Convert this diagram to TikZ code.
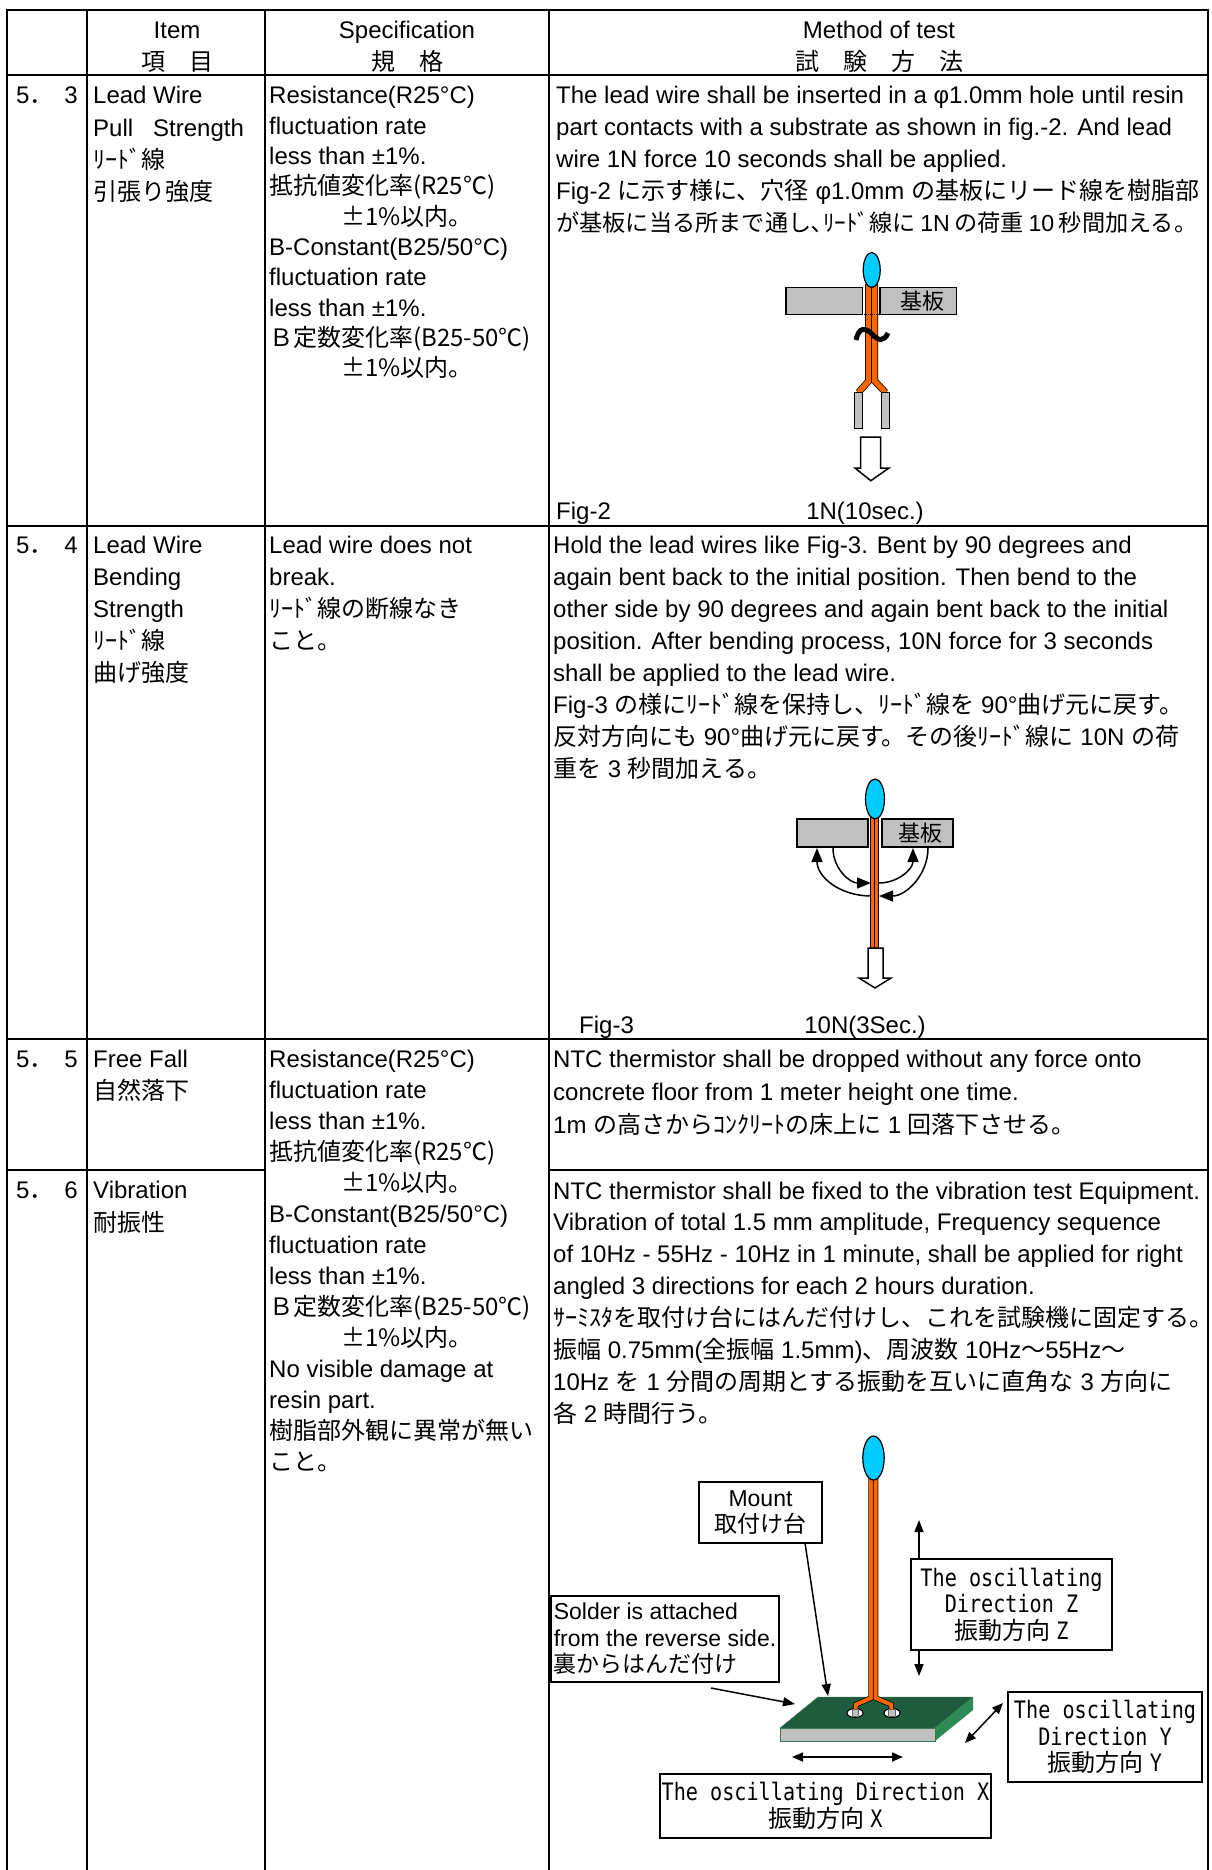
\documentclass[tikz,border=0pt]{standalone}
\usepackage{fontspec}
\setmainfont{Liberation Sans}
\newfontfamily\jpfont{Noto Sans CJK JP}
\newfontfamily\boxmono[FakeStretch=0.84]{DejaVu Sans Mono}
\newcommand{\jp}[1]{{\jpfont #1}}
\usetikzlibrary{arrows.meta}
\definecolor{thermblue}{HTML}{00CCFF}
\definecolor{wireorange}{HTML}{FF6600}
\definecolor{platgrey}{HTML}{C0C0C0}
\definecolor{boardtop}{HTML}{1F5C3D}
\definecolor{boardside}{HTML}{2E8B57}
\definecolor{boardedge}{HTML}{3C7A55}

\begin{document}
\begin{tikzpicture}[x=1pt,y=-1pt,
    grid/.style={line width=2pt,line cap=rect},
    txt/.style={anchor=base west,inner sep=0pt,font=\fontsize{24}{29}\selectfont},
    num/.style={anchor=base east,inner sep=0pt,font=\fontsize{24}{29}\selectfont},
    mid/.style={anchor=base,inner sep=0pt,font=\fontsize{24}{29}\selectfont},
    plate/.style={draw=black,fill=platgrey,line width=1.5pt},
    bead/.style={draw=black,fill=thermblue,line width=1.2pt},
    wire/.style={draw=black,line width=0.75pt,double=wireorange,double distance=#1},
    hollow/.style={draw=black,fill=white,line width=1.5pt,line join=miter},
    swing/.style={line width=1.5pt},
    tag/.style={draw,line width=1.5pt,inner sep=0pt,align=center,font=\fontsize{23}{26.5}\selectfont},
    montag/.style={draw,line width=1.5pt,inner sep=0pt,align=center,font=\boxmono\fontsize{24}{26.5}\selectfont},
    ptr/.style={line width=1.5pt,-{Triangle[length=12pt,width=9pt]}},
    dblptr/.style={line width=1.5pt,{Triangle[length=11pt,width=9pt]}-{Triangle[length=11pt,width=9pt]}},
    tip/.style={-{Triangle[length=14pt,width=11pt]}}]
  \useasboundingbox (0,0) rectangle (1211,1870);

  % table grid
  \foreach \x in {7,87,265,549,1208}
    \draw[grid] (\x,10) -- (\x,1870);
  \foreach \y in {10,75,526,1039}
    \draw[grid] (7,\y) -- (1208,\y);
  \draw[grid] (7,1170) -- (265,1170) (549,1170) -- (1208,1170);

  % header
  \node[mid] (item) at (177,39) {Item};
  \node[mid] (itemjp) at (177,71) {\jp{項　目}};
  \node[mid] (spec) at (407,39) {Specification};
  \node[mid] (specjp) at (407,71) {\jp{規　格}};
  \node[mid] (method) at (879,39) {Method of test};
  \node[mid] (methodjp) at (879,71) {\jp{試　験　方　法}};

  % 5.3
  \node[txt] (no53) at (16,104) {5\jp{．}};
  \node[num] (no53b) at (78,104) {3};
  \foreach \t [count=\i] in {{Lead Wire},{Pull\hspace{20pt}Strength},{\jp{ﾘｰﾄﾞ線}},{\jp{引張り強度}}}
    \node[txt] (item53-\i) at (93,{104+32.3*(\i-1)}) {\t};
  \foreach \t [count=\i] in {{Resistance(R25°C)},{fluctuation rate},{less than ±1\%.},
      {\jp{抵抗値変化率(R25℃)}},{\jp{　　　±1\%以内。}},{B-Constant(B25/50°C)},
      {fluctuation rate},{less than ±1\%.},{\jp{Ｂ定数変化率(B25-50℃)}},{\jp{　　　±1\%以内。}}}
    \node[txt] (spec53-\i) at (269,{104+30.3*(\i-1)}) {\t};
  \foreach \t [count=\i] in {{The lead wire shall be inserted in a φ1.0mm hole until resin},
      {part contacts with a substrate as shown in fig.-2. And lead},
      {wire 1N force 10 seconds shall be applied.},
      {Fig-2 \jp{に示す様に、穴径} φ1.0mm \jp{の基板にリード線を樹脂部}},
      {\fontsize{23.2}{29}\selectfont\jp{が基板に当る所まで通し､ﾘｰﾄﾞ線に}\hspace{4.5pt}1N\hspace{4.5pt}\jp{の荷重}\hspace{4.5pt}10\hspace{4.5pt}\jp{秒間加える}\makebox[9pt][l]{\jp{。}}}}
    \node[txt] (meth53-\i) at (556,{103.5+32.1*(\i-1)}) {\t};

  % Fig-2
  \draw[plate] (786,287.3) rectangle (862.3,314.3);
  \draw[plate] (880,287.3) rectangle (956.7,314.3);
  \node[inner sep=0pt,font=\jpfont\fontsize{22}{22}\selectfont] (kiban2) at (922,301) {基板};
  \draw[wire=5.4pt] (868.64,284) -- (868.64,381) -- (858.5,392.5);
  \draw[wire=5.4pt] (874.76,284) -- (874.76,381) -- (885.5,392.5);
  \draw[densely dotted,line width=1pt] (862.3,314.3) -- (880,314.3);
  \draw[line width=5pt] (856,340) .. controls (859,326) and (866,328) .. (872,334)
    .. controls (878,341) and (884,342) .. (888,333);
  \draw[plate,line width=1pt] (854.7,392.3) rectangle (862.3,428.3);
  \draw[plate,line width=1pt] (881.7,392.3) rectangle (889.3,428.3);
  \draw[bead] (871.7,270) ellipse [x radius=8.5,y radius=17.5];
  \draw[hollow] (860.7,437) -- (880.7,437) -- (880.7,468) -- (889,468) -- (870.8,480.7)
    -- (855,468) -- (860.7,468) -- cycle;
  \node[txt] (fig2) at (556,519) {Fig-2};
  \node[mid] (load2) at (865,519) {1N(10sec.)};

  % 5.4
  \node[txt] (no54) at (16,553) {5\jp{．}};
  \node[num] (no54b) at (78,553) {4};
  \foreach \t [count=\i] in {{Lead Wire},{Bending},{Strength},{\jp{ﾘｰﾄﾞ線}},{\jp{曲げ強度}}}
    \node[txt] (item54-\i) at (93,{553+32*(\i-1)}) {\t};
  \foreach \t [count=\i] in {{Lead wire does not},{break.},{\jp{ﾘｰﾄﾞ線の断線なき}},{\jp{こと。}}}
    \node[txt] (spec54-\i) at (269,{553+32*(\i-1)}) {\t};
  \foreach \t [count=\i] in {{Hold the lead wires like Fig-3. Bent by 90 degrees and},
      {again bent back to the initial position. Then bend to the},
      {other side by 90 degrees and again bent back to the initial},
      {position. After bending process, 10N force for 3 seconds},
      {shall be applied to the lead wire.},
      {Fig-3 \jp{の様にﾘｰﾄﾞ線を保持し、ﾘｰﾄﾞ線を} 90°\jp{曲げ元に戻す。}},
      {\jp{反対方向にも} 90°\jp{曲げ元に戻す。その後ﾘｰﾄﾞ線に} 10N \jp{の荷}},
      {\jp{重を} 3 \jp{秒間加える。}}}
    \node[txt] (meth54-\i) at (553,{553+32*(\i-1)}) {\t};

  % Fig-3
  \draw[plate] (797,819) rectangle (868,847);
  \draw[plate] (882,819) rectangle (953,847);
  \node[inner sep=0pt,font=\jpfont\fontsize{22}{22}\selectfont] (kiban3) at (920,833) {基板};
  \draw[wire=3.5pt] (872.5,817) -- (872.5,948);
  \draw[wire=3.5pt] (876.7,817) -- (876.7,948);
  \draw[bead] (875,799) ellipse [x radius=9.5,y radius=20];
  \draw[swing,{Triangle[length=14pt,width=11pt]}-] (817,848) .. controls (817,877) and (840,896) .. (871,896);
  \draw[swing,tip] (928,848) .. controls (928,875) and (906,896) .. (879,896);
  \draw[swing,tip] (833,848) .. controls (833,869) and (850,883) .. (871,883);
  \draw[swing,tip] (879,883) .. controls (898,883) and (913,869) .. (913,848);
  \draw[hollow] (868,948) -- (883,948) -- (883,978) -- (891,978) -- (875,988)
    -- (859,978) -- (868,978) -- cycle;
  \node[txt] (fig3) at (579,1033) {Fig-3};
  \node[mid] (load3) at (865,1033) {10N(3Sec.)};

  % 5.5
  \node[txt] (no55) at (16,1067) {5\jp{．}};
  \node[num] (no55b) at (78,1067) {5};
  \foreach \t [count=\i] in {{Free Fall},{\jp{自然落下}}}
    \node[txt] (item55-\i) at (93,{1067+32*(\i-1)}) {\t};
  \foreach \t [count=\i] in {{Resistance(R25°C)},{fluctuation rate},{less than ±1\%.},
      {\jp{抵抗値変化率(R25℃)}},{\jp{　　　±1\%以内。}},{B-Constant(B25/50°C)},
      {fluctuation rate},{less than ±1\%.},{\jp{Ｂ定数変化率(B25-50℃)}},{\jp{　　　±1\%以内。}},
      {No visible damage at},{resin part.},{\jp{樹脂部外観に異常が無い}},{\jp{こと。}}}
    \node[txt] (spec55-\i) at (269,{1067+31*(\i-1)}) {\t};
  \foreach \t [count=\i] in {{NTC thermistor shall be dropped without any force onto},
      {concrete floor from 1 meter height one time.},
      {1m \jp{の高さからｺﾝｸﾘｰﾄの床上に} 1 \jp{回落下させる。}}}
    \node[txt] (meth55-\i) at (553,{1067+33*(\i-1)}) {\t};

  % 5.6
  \node[txt] (no56) at (16,1198) {5\jp{．}};
  \node[num] (no56b) at (78,1198) {6};
  \foreach \t [count=\i] in {{Vibration},{\jp{耐振性}}}
    \node[txt] (item56-\i) at (93,{1198+33*(\i-1)}) {\t};
  \foreach \t [count=\i] in {{NTC thermistor shall be fixed to the vibration test Equipment.},
      {Vibration of total 1.5 mm amplitude, Frequency sequence},
      {of 10Hz - 55Hz - 10Hz in 1 minute, shall be applied for right},
      {angled 3 directions for each 2 hours duration.},
      {\jp{ｻｰﾐｽﾀを取付け台にはんだ付けし、これを試験機に固定する。}},
      {\jp{振幅} 0.75mm(\jp{全振幅} 1.5mm)\jp{、周波数} 10Hz\jp{～}55Hz\jp{～}},
      {10Hz \jp{を} 1 \jp{分間の周期とする振動を互いに直角な} 3 \jp{方向に}},
      {\jp{各} 2 \jp{時間行う。}}}
    \node[txt] (meth56-\i) at (553,{1199+31.9*(\i-1)}) {\t};

  % vibration set-up
  \fill[boardtop,draw=boardedge] (780,1728) -- (818,1697) -- (973,1697) -- (935,1728) -- cycle;
  \fill[boardside] (935,1728) -- (973,1697) -- (973,1710) -- (935,1741) -- cycle;
  \draw[fill=platgrey,draw=boardedge] (780,1728) rectangle (935,1741);
  \draw[fill=white,line width=1pt] (855,1713) ellipse [x radius=8,y radius=4.5];
  \draw[fill=white,line width=1pt] (892,1713) ellipse [x radius=8,y radius=4.5];
  \draw[wire=3.9pt] (870.97,1476) -- (870.97,1698) -- (856,1704.5) -- (855.5,1710);
  \draw[wire=3.9pt] (875.63,1476) -- (875.63,1698) -- (891,1704.5) -- (891.5,1710);
  \fill[platgrey,draw=black!60,line width=0.5pt] (852,1709) rectangle (858.5,1716.5);
  \fill[platgrey,draw=black!60,line width=0.5pt] (888.5,1709) rectangle (895,1716.5);
  \draw[bead] (873.5,1458) ellipse [x radius=10.7,y radius=22];

  \node[tag,minimum width=123pt,minimum height=61pt] (mount) at (760.5,1512.5)
    {Mount\\\jp{取付け台}};
  \node[tag,align=left,minimum width=228pt,minimum height=86pt] (solder) at (665,1639)
    {Solder is attached\\from the reverse side.\\\jp{裏からはんだ付け}};
  \node[montag,minimum width=201pt,minimum height=91pt] (zbox) at (1011.5,1604.5)
    {The oscillating\\Direction Z\\\jp{振動方向}\hspace{6pt}Z};
  \node[montag,minimum width=194pt,minimum height=90pt] (ybox) at (1105,1737)
    {The oscillating\\Direction Y\\\jp{振動方向}\hspace{6pt}Y};
  \node[montag,minimum width=331pt,minimum height=64pt] (xbox) at (825.5,1806)
    {The oscillating Direction X\\\jp{振動方向}\hspace{6pt}X};

  \coordinate (mountfoot) at (828,1696);
  \coordinate (soldertail) at (711,1688);
  \coordinate (soldertip) at (795,1704);
  \coordinate (ztop) at (919,1520);
  \coordinate (zbot) at (919,1676);
  \coordinate (ylow) at (965,1743);
  \coordinate (yhigh) at (1003,1703);
  \coordinate (xleft) at (792,1757);
  \coordinate (xright) at (903,1757);
  \draw[ptr] (mount.-35) -- (mountfoot);
  \draw[ptr] (soldertail) -- (soldertip);
  \draw[ptr] (zbox.north -| ztop) -- (ztop);
  \draw[ptr] (zbox.south -| zbot) -- (zbot);
  \draw[dblptr] (ylow) -- (yhigh);
  \draw[dblptr] (xleft) -- (xright);
\end{tikzpicture}
\end{document}
